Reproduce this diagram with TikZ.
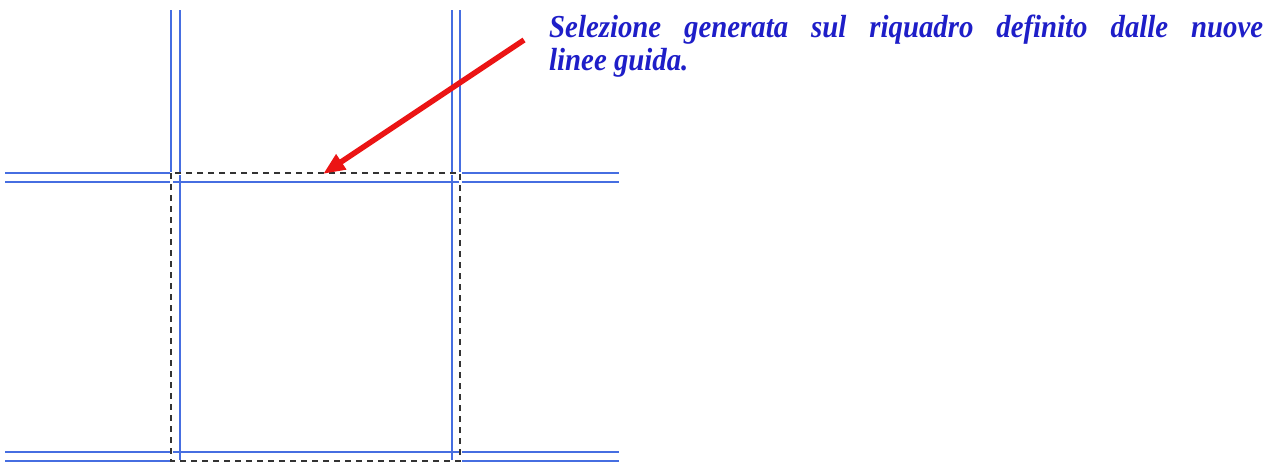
\documentclass[tikz,border=0pt]{standalone}
\usepackage{fontspec}
\setmainfont{Liberation Serif}
\newfontfamily\labelfont[FakeStretch=0.9]{Liberation Serif}
\usetikzlibrary{arrows.meta}
\definecolor{guide}{RGB}{70,110,225}
\definecolor{txtblue}{RGB}{30,30,200}
\definecolor{arrred}{RGB}{235,20,20}
\tikzset{
  guideline/.style={draw=guide, line width=1.4pt},
  selbox/.style={draw=black!80, line width=1.5pt, dash pattern=on 6pt off 5pt},
  selunder/.style={draw=white, line width=3pt},
  label/.style={text=txtblue, font=\labelfont\fontsize{32}{33}\selectfont\bfseries\itshape, inner sep=0pt, anchor=base west},
  pointer/.style={draw=arrred, line width=5.5pt, -{Triangle[length=22pt,width=17pt]}}
}
\begin{document}
\begin{tikzpicture}[x=1pt,y=-1pt]
\useasboundingbox (0,0) rectangle (1276,463);
% guides
\draw[guideline] (5,173) -- (619,173);
\draw[guideline] (5,182) -- (619,182);
\draw[guideline] (5,452) -- (619,452);
\draw[guideline] (5,461) -- (619,461);
\draw[guideline] (171,10) -- (171,463);
\draw[guideline] (180,10) -- (180,463);
\draw[guideline] (452,10) -- (452,463);
\draw[guideline] (460,10) -- (460,463);
% selection
\coordinate (s1) at (171,173);
\coordinate (s2) at (460,461);
\draw[selunder] (s1) rectangle (s2);
\draw[selbox] (s1) rectangle (s2);
% text
\node[label] (t1) at (549,37) {\makebox[714pt][s]{Selezione generata sul riquadro definito dalle nuove}};
\node[label] (t2) at (549,70) {linee guida.};
% arrow
\coordinate (a0) at (524,40);
\coordinate (a1) at (323,174);
\draw[pointer] (a0) -- (a1);
\end{tikzpicture}
\end{document}
